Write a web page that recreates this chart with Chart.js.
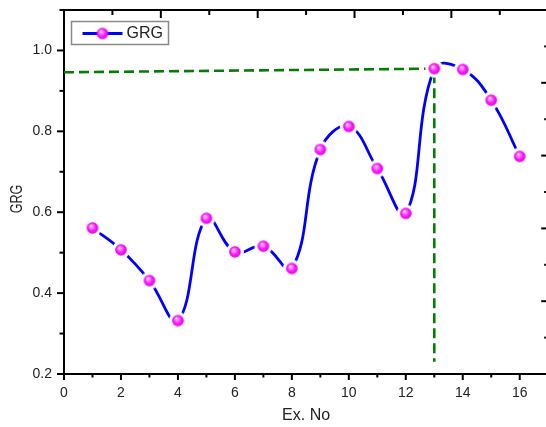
<!DOCTYPE html>
<html>
<head>
<meta charset="utf-8">
<script src="https://cdn.jsdelivr.net/npm/chart.js@4.4.0/dist/chart.umd.min.js"></script>
<style>
html,body{margin:0;padding:0;background:#fff;overflow:hidden}
#wrap{width:557px;height:427px}
</style>
</head>
<body>
<div id="wrap"><canvas id="myChart" width="557" height="427"></canvas></div>
<script>
// values
let exNo = [1,2,3,4,5,6,7,8,9,10,11,12,13,14,15,16]
let grg = [0.561,0.507,0.431,0.332,0.585,0.502,0.516,0.461,0.755,0.812,0.708,0.597,0.955,0.953,0.877,0.738]
// green guide line to the best run
let guideX = [0,13,13]
let guideY = [0.946,0.955,0.23]

let font = "Liberation Sans, Arial, sans-serif"
let textColor = "#222"

// shaded magenta ball, optionally sitting on a white disc so the line stops short of it
function makeBall(r, ring){
    let outer = ring || r
    let size = Math.ceil(outer)*2+2
    let c = document.createElement("canvas")
    c.width = size; c.height = size
    let ctx = c.getContext("2d")
    let m = size/2
    if(ring){
        ctx.fillStyle = "#fff"
        ctx.beginPath(); ctx.arc(m,m,ring,0,Math.PI*2); ctx.fill()
    }
    let g = ctx.createRadialGradient(m-r*0.3, m-r*0.4, 0, m, m, r)
    g.addColorStop(0,"#ffffff")
    g.addColorStop(0.3,"#ff80ff")
    g.addColorStop(0.65,"#ff18ff")
    g.addColorStop(1,"#e000e0")
    ctx.fillStyle = g
    ctx.beginPath(); ctx.arc(m,m,r,0,Math.PI*2); ctx.fill()
    return c
}
let ballRing = makeBall(5.8, 9)
let ball = makeBall(5.8)

// major/minor tick marks, outward on left/bottom, inward on top/right
const tickMarks = {
    id: "tickMarks",
    afterDraw(chart){
        const ctx = chart.ctx, a = chart.chartArea
        const sides = [
            {id:"x",  major:v=>v%2===0, L:6, l:3.5},
            {id:"y",  major:v=>Math.round(v*10)%2===0, L:7, l:4.5},
            {id:"x2", major:v=>v%2===0, L:8, l:5},
            {id:"y2", major:v=>v%2===0, L:7, l:4}
        ]
        ctx.save()
        ctx.strokeStyle = "#000"
        ctx.lineWidth = 2
        sides.forEach(side=>{
            let s = chart.scales[side.id]
            s.ticks.forEach((t,i)=>{
                let p = s.getPixelForTick(i)
                let len = side.major(t.value) ? side.L : side.l
                ctx.beginPath()
                if(side.id==="x"){ ctx.moveTo(p,a.bottom); ctx.lineTo(p,a.bottom+len) }
                if(side.id==="y"){ ctx.moveTo(a.left,p); ctx.lineTo(a.left-len,p) }
                if(side.id==="x2"){ ctx.moveTo(p,a.top); ctx.lineTo(p,a.top+len) }
                if(side.id==="y2"){ ctx.moveTo(a.right,p); ctx.lineTo(a.right-len,p) }
                ctx.stroke()
            })
        })
        ctx.restore()
    }
}

// boxed legend: line - ball - line, then the label
const legendBox = {
    id: "legendBox",
    afterDraw(chart){
        const ctx = chart.ctx, a = chart.chartArea
        let ds = chart.data.datasets[0]
        let x = a.left+7.5, y = a.top+11.5
        ctx.save()
        ctx.strokeStyle = "#8a8a8a"
        ctx.lineWidth = 1.5
        ctx.strokeRect(x, y, 97, 23)
        ctx.strokeStyle = ds.borderColor
        ctx.lineWidth = 2.8
        ctx.beginPath(); ctx.moveTo(x+11, y+12); ctx.lineTo(x+51, y+12); ctx.stroke()
        ctx.drawImage(ball, x+31-ball.width/2, y+12-ball.height/2)
        ctx.fillStyle = textColor
        ctx.font = "16px " + font
        ctx.textBaseline = "middle"
        ctx.fillText(ds.label, x+55, y+12.5)
        ctx.restore()
    }
}

// y axis title, a little narrow as in the picture
const yTitle = {
    id: "yTitle",
    afterDraw(chart){
        const ctx = chart.ctx
        ctx.save()
        ctx.translate(16.5, 199)
        ctx.rotate(-Math.PI/2)
        ctx.scale(0.74, 1)
        ctx.fillStyle = textColor
        ctx.font = "17px " + font
        ctx.textAlign = "center"
        ctx.textBaseline = "middle"
        ctx.fillText("GRG", 0, 1)
        ctx.restore()
    }
}

let border = {display:true, color:"#000", width:2}
let noGrid = {display:true, drawOnChartArea:false, drawTicks:false}
// fixed scale sizes, and no extra room for labels that hang past the ends
function fixSize(w, h){
    return s=>{
        if(w!==null) s.width = w
        if(h!==null) s.height = h
        s.paddingTop = 0; s.paddingBottom = 0; s.paddingLeft = 0; s.paddingRight = 0
    }
}

new Chart("myChart", {
    type: "line",
    data: {
        datasets: [
            {
                label: "GRG",
                data: exNo.map((x,i)=>({x:x, y:grg[i]})),
                borderColor: "#0000ff",
                borderWidth: 2.8,
                tension: 0.42,
                pointStyle: ballRing,
                pointRadius: 6,
                order: 1
            },
            {
                label: "guide",
                data: guideX.map((x,i)=>({x:x, y:guideY[i]})),
                borderColor: "#007f00",
                borderWidth: 2.6,
                borderDash: [10,5],
                pointRadius: 0,
                tension: 0,
                order: 2
            }
        ]
    },
    options: {
        responsive: false,
        animation: false,
        layout: {padding: 0},
        plugins: {legend: {display:false}, tooltip: {enabled:false}},
        scales: {
            x: {
                type: "linear", position: "bottom", min: 0, max: 17,
                ticks: {stepSize:1, autoSkip:false, maxRotation:0, padding:11, color:textColor,
                    font:{family:font, size:14}, callback:v=>v%2===0 ? v : ""},
                grid: noGrid, border: border,
                title: {display:true, text:"Ex. No", color:textColor, font:{family:font, size:16}, padding:{top:0, bottom:2}},
                afterFit: fixSize(null, 53)
            },
            x2: {
                type: "linear", position: "top", min: 0, max: 10,
                ticks: {display:false, stepSize:1, autoSkip:false},
                grid: noGrid, border: border,
                afterFit: fixSize(null, 10)
            },
            y: {
                type: "linear", position: "left", min: 0.2, max: 1.1,
                ticks: {stepSize:0.1, autoSkip:false, padding:12, color:textColor,
                    font:{family:font, size:14}, callback:v=>Math.round(v*10)%2===0 ? v.toFixed(1) : ""},
                grid: noGrid, border: border,
                afterFit: fixSize(64, null)
            },
            y2: {
                type: "linear", position: "right", min: 0, max: 10,
                ticks: {display:false, stepSize:1, autoSkip:false},
                grid: noGrid, border: border,
                afterFit: fixSize(4, null)
            }
        }
    },
    plugins: [tickMarks, legendBox, yTitle]
})
</script>
</body>
</html>
